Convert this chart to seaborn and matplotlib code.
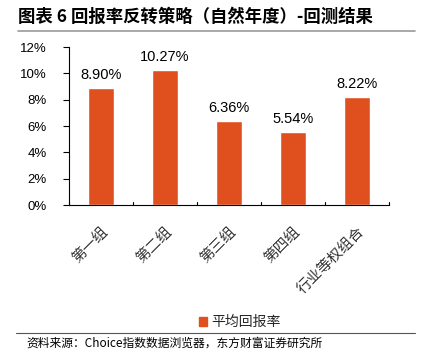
import matplotlib
matplotlib.use("Agg")
import matplotlib.pyplot as plt
import seaborn as sns
import pandas as pd
from matplotlib.lines import Line2D
from matplotlib.ticker import FuncFormatter, MultipleLocator

categories = ["第一组", "第二组", "第三组", "第四组", "行业等权组合"]
values = [8.90, 10.27, 6.36, 5.54, 8.22]
series_name = "平均回报率"
title = "图表 6 回报率反转策略（自然年度）-回测结果"
source = "资料来源：Choice指数数据浏览器，东方财富证券研究所"

sns.set_theme(style="white")
plt.rcParams['font.family'] = ['Liberation Sans', 'Noto Sans CJK SC', 'DejaVu Sans']

df = pd.DataFrame({"cat": categories, "val": values, "series": series_name})

fig = plt.figure(figsize=(4.24, 3.62), dpi=100)
ax = fig.add_axes([69/424, 1-205/362, 320/424, 158/362])
color = "#E0501E"
sns.barplot(data=df, x="cat", y="val", hue="series", palette=[color], width=0.4,
            ax=ax, legend=False, saturation=1)

ax.set_ylim(0, 12)
ax.set_xlim(-0.5, len(categories) - 0.5)
ax.yaxis.set_major_locator(MultipleLocator(2))
ax.yaxis.set_major_formatter(FuncFormatter(lambda v, p: f"{v:.0f}%"))
ax.set_xlabel("")
ax.set_ylabel("")
for s in ["top", "right"]:
    ax.spines[s].set_visible(False)
for s in ["left", "bottom"]:
    ax.spines[s].set_color("black")
    ax.spines[s].set_linewidth(0.8)

ax.tick_params(axis="y", which="major", left=True, length=4, width=0.8, direction="out",
               labelsize=9.5, colors="black", pad=12)
ax.tick_params(axis="x", bottom=False, labelsize=10.5, pad=8)
# boundary ticks on x axis (inward)
for b in [i + 0.5 for i in range(-1, len(categories))]:
    ax.plot([b, b], [0, 0.25], color="black", lw=0.8, clip_on=False)

ax.set_xticks(range(len(categories)))
ax.set_xticklabels(categories, rotation=45, ha="right", rotation_mode="anchor",
                   fontfamily=["Noto Sans CJK SC"], color="#333333")

for i, v in enumerate(values):
    ax.text(i, v + 0.45, f"{v:.2f}%", ha="center", va="bottom", fontsize=10.5, color="black")

fig.text(18/424, 1-17/362, title, fontsize=12.5, fontweight="bold",
         fontfamily=["Noto Sans CJK SC"], va="center", ha="left", color="black")
fig.add_artist(Line2D([18/424, 415/424], [1-31/362, 1-31/362], color="#999999", lw=1.2))
fig.add_artist(Line2D([16/424, 415/424], [1-333/362, 1-333/362], color="#555555", lw=0.8))
fig.text(26/424, 1-343/362, source, fontsize=8.5, fontfamily=["Noto Sans CJK SC"],
         va="center", ha="left", color="black")

handle = plt.Rectangle((0, 0), 1, 1, color=color)
fig.legend([handle], [series_name], loc="center", bbox_to_anchor=(240/424, 1-322/362),
           frameon=False, prop={"family": "Noto Sans CJK SC", "size": 10},
           handlelength=0.6, handleheight=0.6, handletextpad=0.3)

fig.savefig("out.png", dpi=100)
